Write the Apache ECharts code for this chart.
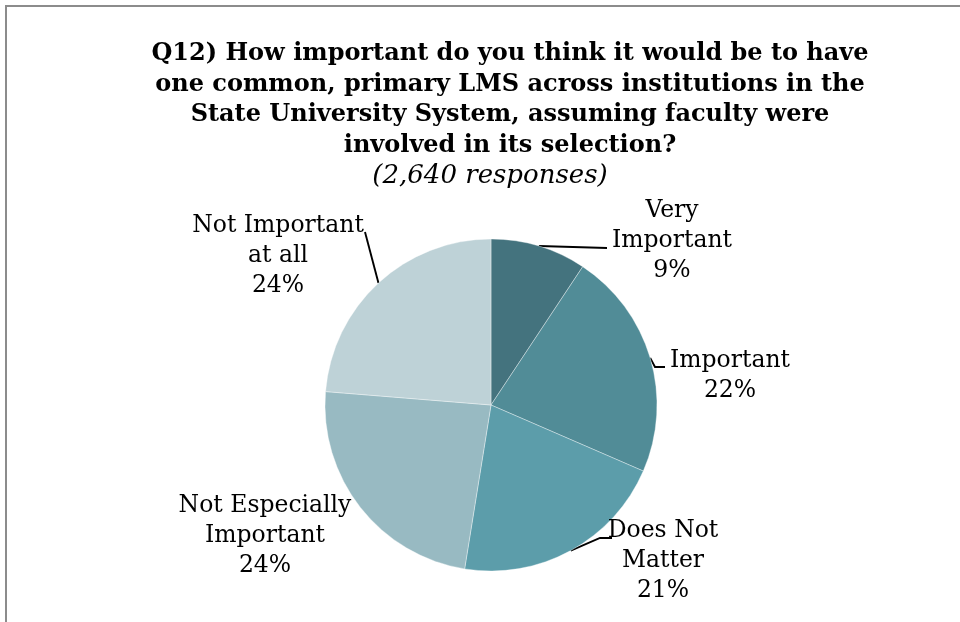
<!DOCTYPE html>
<html>
<head>
<meta charset="utf-8">
<script src="https://cdn.jsdelivr.net/npm/echarts@6/dist/echarts.min.js"></script>
<style>
html,body{margin:0;padding:0;background:#fff;}
#chart{width:960px;height:622px;}
</style>
</head>
<body>
<div id="chart"></div>
<script>
// Data (counts out of 2,640 responses)
const categories = ['Very\nImportant', 'Important', 'Does Not\nMatter', 'Not Especially\nImportant', 'Not Important\nat all'];
const counts = [246, 586, 555, 627, 626];
const colors = ['#44737e', '#518c97', '#5c9daa', '#98bac2', '#bed2d7'];
const titleText = 'Q12) How important do you think it would be to have\none common, primary LMS across institutions in the\nState University System, assuming faculty were\ninvolved in its selection?';
const subtitleText = '(2,640 responses)';

// label layout (styling only): label centre and leader-line bend/end points
const labelPos = [[672, 241], [730, 376], [663, 561], [265, 536], [278, 256]];
const leaderEnds = [
  [[607, 248], [607, 248]],
  [[655, 367], [665, 367]],
  [[600, 538], [612, 538]],
  null,
  [[365, 232], [365, 232]]
];

const chart = echarts.init(document.getElementById('chart'), null, {renderer: 'canvas'});
const serif = '"DejaVu Serif", Georgia, serif';
chart.setOption({
  backgroundColor: '#ffffff',
  animation: false,
  title: [{
    text: titleText,
    left: 510,
    textAlign: 'center',
    top: 39,
    padding: 0,
    textStyle: {fontFamily: serif, fontWeight: 'bold', fontSize: 24, lineHeight: 30.5, color: '#000'}
  }, {
    text: subtitleText,
    left: 490,
    textAlign: 'center',
    top: 161,
    padding: 0,
    textStyle: {fontFamily: serif, fontStyle: 'italic', fontWeight: 'normal', fontSize: 26, lineHeight: 30, color: '#000'}
  }],
  graphic: [{
    type: 'rect',
    shape: {x: 6, y: 6, width: 1200, height: 1200},
    style: {fill: 'none', stroke: '#8c8c8c', lineWidth: 2},
    silent: true
  }],
  series: [{
    type: 'pie',
    center: [491, 405],
    radius: 166,
    startAngle: 90,
    clockwise: true,
    data: categories.map((c, i) => ({
      name: c, value: counts[i],
      itemStyle: {color: colors[i]},
      labelLine: {show: leaderEnds[i] !== null}
    })),
    itemStyle: {borderColor: 'rgba(255,255,255,0.6)', borderWidth: 0.6},
    label: {
      show: true,
      position: 'outside',
      fontFamily: serif,
      fontSize: 23.5,
      lineHeight: 30,
      color: '#000',
      align: 'center',
      formatter: p => p.name + '\n' + Math.round(p.percent) + '%'
    },
    labelLine: {show: true, length: 10, length2: 10, lineStyle: {color: '#000', width: 1.9}},
    labelLayout: function (params) {
      const i = params.dataIndex;
      const pos = labelPos[i];
      const res = {x: pos[0], y: pos[1], align: 'center', verticalAlign: 'middle'};
      if (leaderEnds[i] && params.labelLinePoints) {
        const start = params.labelLinePoints[0];
        res.labelLinePoints = [start, leaderEnds[i][0], leaderEnds[i][1]];
      }
      return res;
    },
    emphasis: {disabled: true}
  }]
});
</script>
</body>
</html>
